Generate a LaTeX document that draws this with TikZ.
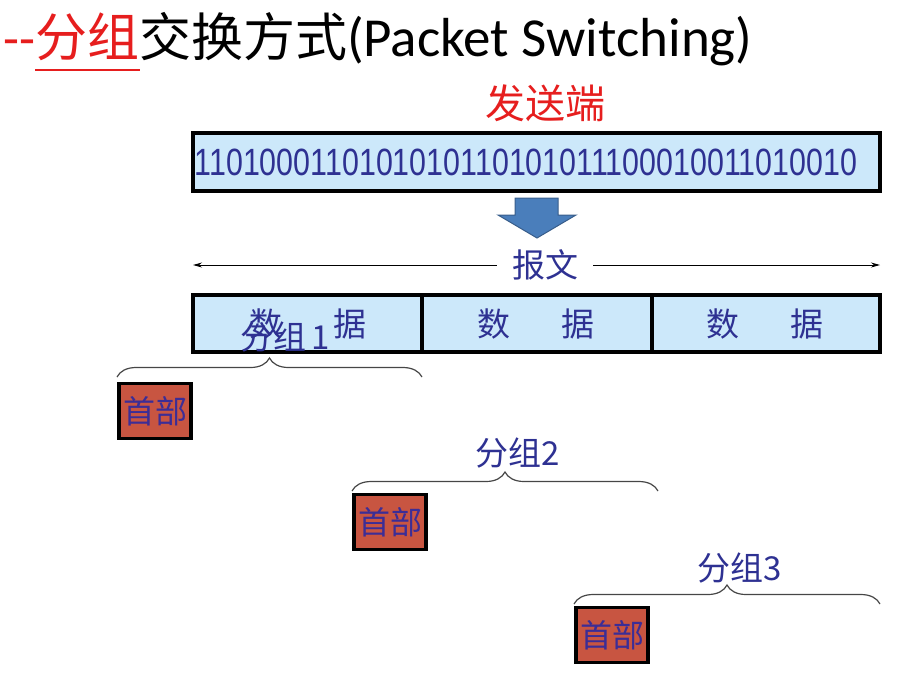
\documentclass[tikz,border=0pt]{standalone}
\usepackage{fontspec}
\setmainfont{Carlito}
\newfontfamily\cjk{Noto Sans CJK SC}
\newfontfamily\bitfont[FakeStretch=0.8]{Liberation Sans}
\usetikzlibrary{arrows.meta,decorations.pathreplacing}
\definecolor{titlered}{RGB}{230,30,30}
\definecolor{cellblue}{RGB}{204,232,250}
\definecolor{navy}{RGB}{46,49,146}
\definecolor{headbrown}{RGB}{200,85,65}
\definecolor{headtext}{RGB}{60,45,150}
\definecolor{arrowblue}{RGB}{74,126,187}
\definecolor{arrowedge}{RGB}{56,93,138}
\definecolor{bracegray}{RGB}{70,70,70}

\begin{document}
\begin{tikzpicture}[x=1pt,y=-1pt,
    databox/.style={draw=black, line width=3.5pt, fill=cellblue},
    cjktext/.style={text=navy, font=\cjk\fontsize{33}{33}\selectfont},
    headbox/.style={draw=black, line width=3.5pt, fill=headbrown, text=headtext,
      inner sep=0pt, minimum width=72pt, minimum height=55pt,
      font=\cjk\fontsize{32}{32}\selectfont},
    groupbrace/.style={decorate, decoration={brace, amplitude=19pt},
      draw=bracegray, line width=1.2pt},
    msgarrow/.style={-{Stealth[length=9pt,width=5pt]}, line width=0.9pt}]
  \useasboundingbox (0,0) rectangle (901,673);

  % title
  \node[anchor=base west, inner sep=0pt] (title) at (3,56)
    {\fontsize{52}{60}\selectfont\textcolor{titlered}{-{}-{\cjk 分组}}{\cjk 交换方式}{\fontsize{55}{60}\selectfont(Packet Switching)}};
  \draw[titlered, line width=2.5pt] (35,70) -- (140,70);

  % sender and bits
  \node[text=titlered, font=\cjk\fontsize{40}{40}\selectfont] (sender) at (545,103) {发送端};
  \draw[databox] (193,133) rectangle (880,191);
  \node[text=navy, font=\bitfont\fontsize{38}{38}\selectfont] (bits) at (526,162)
    {1101000110101010110101011100010011010010};

  % split arrow
  \filldraw[fill=arrowblue, draw=arrowedge, line width=1pt]
    (515,198) -- (558,198) -- (558,215) -- (576,215) -- (537,238) -- (498,215) -- (515,215) -- cycle;

  % message span
  \node[cjktext, inner xsep=15pt] (msg) at (545,265) {报文};
  \draw[msgarrow] (msg.west) -- (193,265);
  \draw[msgarrow] (msg.east) -- (880,265);

  % data cells
  \draw[databox] (193,295) rectangle (422,352);
  \draw[databox] (422,295) rectangle (652,352);
  \draw[databox] (652,295) rectangle (880,352);
  \node[cjktext] (d1) at (308,324) {数\hspace{52pt}据};
  \node[cjktext] (d2) at (536,324) {数\hspace{52pt}据};
  \node[cjktext] (d3) at (765,324) {数\hspace{52pt}据};

  % packets
  \draw[groupbrace] (117,377) -- (422,377);
  \node[cjktext] (g1) at (285,337) {分组\,1};
  \node[headbox] (h1) at (155,411) {首部};

  \draw[groupbrace] (352,491) -- (658,491);
  \node[cjktext] (g2) at (518,453) {分组2};
  \node[headbox] (h2) at (390,522) {首部};

  \draw[groupbrace] (574,604) -- (880,604);
  \node[cjktext] (g3) at (740,568) {分组3};
  \node[headbox] (h3) at (612,635) {首部};
\end{tikzpicture}
\end{document}
